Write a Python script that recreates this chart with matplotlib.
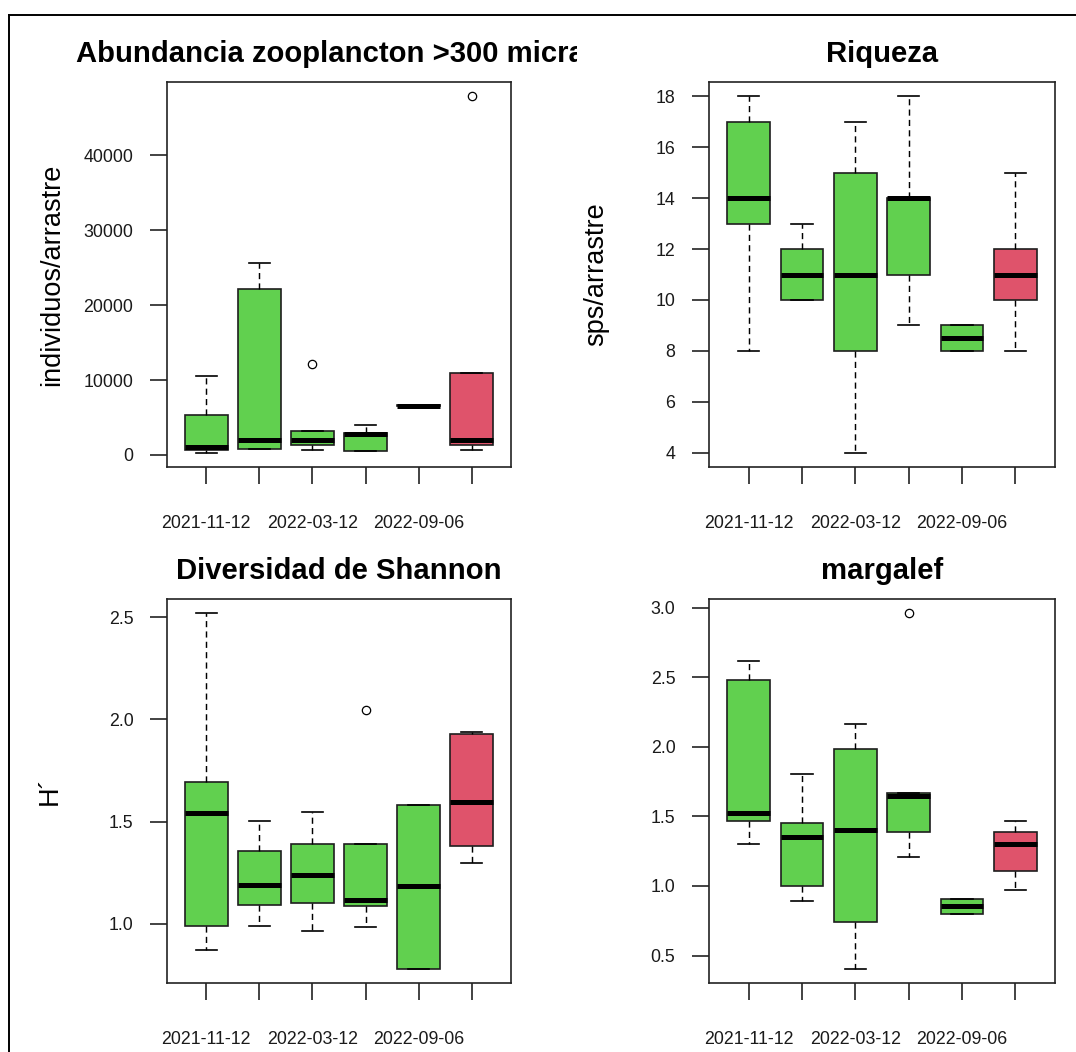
import matplotlib
matplotlib.use("Agg")
import matplotlib.pyplot as plt
from matplotlib.lines import Line2D
from matplotlib.transforms import Bbox, TransformedBbox
from matplotlib.ticker import FormatStrFormatter

plt.rcParams['font.family'] = ['Liberation Sans', 'DejaVu Sans']

# sampling dates (only every other label fits under the boxes)
dates = ["2021-11-12", "", "2022-03-12", "", "2022-09-06", ""]
box_colors = ["#61D04F"] * 5 + ["#DF536B"]

# abundance, individuos/arrastre
abund_whislo = [300, 800, 700, 560, 6500, 700]
abund_q1 = [700, 800, 1400, 560, 6500, 1400]
abund_med = [1000, 2000, 2000, 2750, 6600, 2000]
abund_q3 = [5300, 22150, 3200, 2950, 6700, 10900]
abund_whishi = [10500, 25700, 3200, 3950, 6700, 10900]
abund_fliers = [[], [], [12200], [], [], [47900]]
abund_ticks = [0, 10000, 20000, 30000, 40000]

# species richness
riq_whislo = [8, 10, 4, 9, 8, 8]
riq_q1 = [13, 10, 8, 11, 8, 10]
riq_med = [14, 11, 11, 14, 8.5, 11]
riq_q3 = [17, 12, 15, 14, 9, 12]
riq_whishi = [18, 13, 17, 18, 9, 15]
riq_fliers = [[], [], [], [], [], []]
riq_ticks = [4, 6, 8, 10, 12, 14, 16, 18]

# Shannon diversity H'
shan_whislo = [0.87, 0.99, 0.965, 0.985, 0.78, 1.30]
shan_q1 = [0.99, 1.09, 1.10, 1.085, 0.78, 1.38]
shan_med = [1.54, 1.19, 1.24, 1.115, 1.185, 1.595]
shan_q3 = [1.695, 1.355, 1.39, 1.39, 1.58, 1.93]
shan_whishi = [2.52, 1.505, 1.545, 1.39, 1.58, 1.94]
shan_fliers = [[], [], [], [2.045], [], []]
shan_ticks = [1.0, 1.5, 2.0, 2.5]

# Margalef index
marg_whislo = [1.30, 0.89, 0.405, 1.21, 0.80, 0.97]
marg_q1 = [1.465, 1.0, 0.74, 1.385, 0.80, 1.11]
marg_med = [1.525, 1.355, 1.405, 1.65, 0.855, 1.30]
marg_q3 = [2.48, 1.455, 1.985, 1.665, 0.91, 1.385]
marg_whishi = [2.62, 1.805, 2.165, 1.665, 0.91, 1.465]
marg_fliers = [[], [], [], [2.96], [], []]
marg_ticks = [0.5, 1.0, 1.5, 2.0, 2.5, 3.0]

W, H = 1076, 1052
fig = plt.figure(figsize=(W / 100, H / 100), dpi=100)
fig.patch.set_facecolor('white')


def px_axes(x0, y0, x1, y1):
    return fig.add_axes([x0 / W, 1 - y1 / H, (x1 - x0) / W, (y1 - y0) / H])


def draw_panel(ax, whislo, q1, med, q3, whishi, fliers, ticks, fmt,
               title, ylabel, ylab_x, title_x=0.5, title_ha='center',
               title_clip=None):
    stats = []
    for i in range(len(med)):
        stats.append(dict(whislo=whislo[i], q1=q1[i], med=med[i], q3=q3[i],
                          whishi=whishi[i], fliers=fliers[i]))
    pos = list(range(1, len(med) + 1))
    bp = ax.bxp(stats, positions=pos, widths=0.8, patch_artist=True,
                showfliers=True,
                boxprops=dict(edgecolor='#1e1e1e', linewidth=1.2),
                medianprops=dict(color='black', linewidth=3.6, solid_capstyle='butt'),
                whiskerprops=dict(color='black', linewidth=1.05, linestyle=(0, (4.2, 2.9))),
                capprops=dict(color='black', linewidth=1.2),
                flierprops=dict(marker='o', markerfacecolor='none',
                                markeredgecolor='black', markersize=6,
                                markeredgewidth=0.9))
    for patch, c in zip(bp['boxes'], box_colors):
        patch.set_facecolor(c)

    # R-style 4% padding around the data range
    allv = list(whislo) + list(whishi) + [v for f in fliers for v in f]
    lo, hi = min(allv), max(allv)
    pad = 0.04 * (hi - lo)
    ax.set_ylim(lo - pad, hi + pad)
    ax.set_xlim(0.26, len(med) + 0.74)

    ax.set_yticks(ticks)
    ax.yaxis.set_major_formatter(FormatStrFormatter(fmt))
    ax.set_xticks(pos)
    ax.set_xticklabels(dates)
    ax.tick_params(axis='both', direction='out', length=12.2, width=1.2,
                   color='#222222', labelsize=12.8, labelcolor='#1a1a1a')
    ax.tick_params(axis='y', pad=12)
    ax.tick_params(axis='x', pad=22)
    for s in ax.spines.values():
        s.set_linewidth(1.2)
        s.set_color('#222222')

    if ylabel:
        ax.set_ylabel(ylabel, fontsize=19.5)
        ax.yaxis.label.set_va('center')
        ax.yaxis.set_label_coords(ylab_x, 0.5)

    t = ax.text(title_x, 1 + 20.5 / 385, title, transform=ax.transAxes,
                ha=title_ha, va='baseline', fontsize=21.1, fontweight='bold')
    if title_clip is not None:
        t.set_clip_box(TransformedBbox(Bbox.from_extents(*title_clip), fig.transFigure))
        t.set_clip_on(True)


ax1 = px_axes(167, 82, 511, 467)
draw_panel(ax1, abund_whislo, abund_q1, abund_med, abund_q3, abund_whishi,
           abund_fliers, abund_ticks, '%d',
           "Abundancia zooplancton >300 micra", "individuos/arrastre",
           (52 - 167) / 344, title_x=(76 - 167) / 344, title_ha='left',
           title_clip=(0, 0, 577 / W, 1))

ax2 = px_axes(709, 82, 1055, 467)
draw_panel(ax2, riq_whislo, riq_q1, riq_med, riq_q3, riq_whishi,
           riq_fliers, riq_ticks, '%d', "Riqueza", "sps/arrastre",
           (596 - 709) / 346)

ax3 = px_axes(167, 599, 511, 983)
draw_panel(ax3, shan_whislo, shan_q1, shan_med, shan_q3, shan_whishi,
           shan_fliers, shan_ticks, '%.1f', "Diversidad de Shannon", "H\u00b4",
           (50 - 167) / 344)

ax4 = px_axes(709, 599, 1055, 983)
draw_panel(ax4, marg_whislo, marg_q1, marg_med, marg_q3, marg_whishi,
           marg_fliers, marg_ticks, '%.1f', "margalef", None, None)

# outer frame lines along top and left edge
fig.add_artist(Line2D([9 / W, 1], [1 - 14.5 / H, 1 - 14.5 / H],
                      transform=fig.transFigure, color='black', linewidth=1.4))
fig.add_artist(Line2D([9 / W, 9 / W], [0, 1 - 14.5 / H],
                      transform=fig.transFigure, color='black', linewidth=1.4))

fig.savefig("out.png", dpi=100, facecolor='white')
